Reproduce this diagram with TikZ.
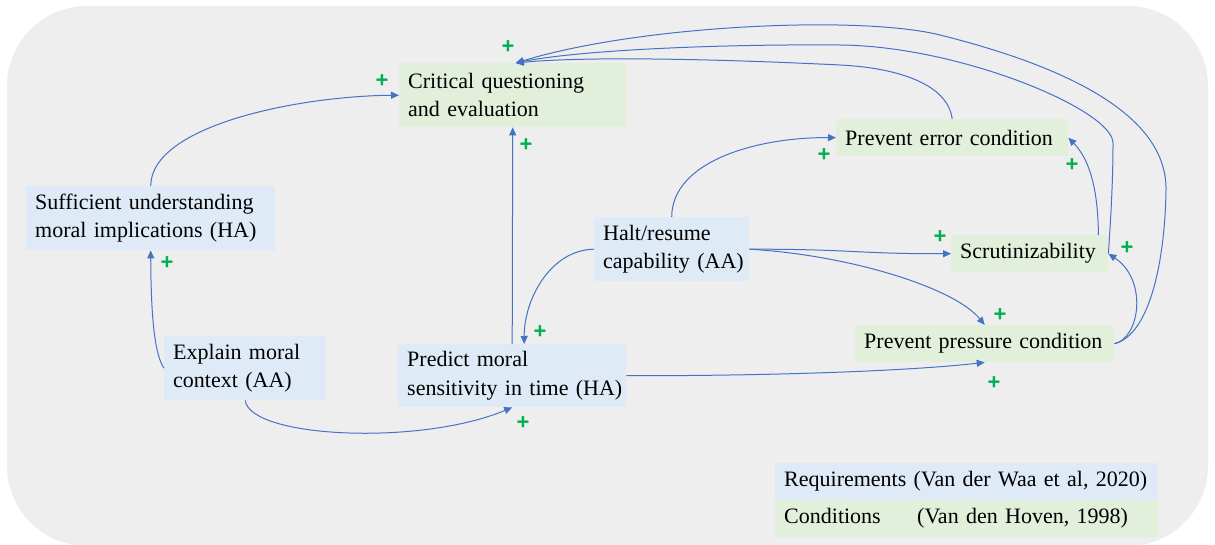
\documentclass[tikz,border=0pt]{standalone}
\usepackage{fontspec}
\setmainfont{Liberation Serif}
\setsansfont{Liberation Sans}
\usetikzlibrary{arrows.meta}

\definecolor{panel}{HTML}{EEEEEE}
\definecolor{reqblue}{HTML}{DEEAF6}
\definecolor{condgreen}{HTML}{E2EFDA}
\definecolor{linkblue}{HTML}{4472C4}
\definecolor{plusgreen}{HTML}{00B050}

\begin{document}
\begin{tikzpicture}[x=1pt,y=1pt,
  label text/.style={font=\fontsize{22}{28.5}\selectfont, text=black},
  anybox/.style={label text, anchor=north west, inner xsep=9pt, inner ysep=0pt,
    align=left, minimum height=#1},
  reqbox/.style={anybox=#1, fill=reqblue},
  condbox/.style={anybox=#1, fill=condgreen},
  link/.style={draw=linkblue, line width=1pt,
    -{Triangle[length=8pt,width=7pt]}},
  plusmark/.style={text=plusgreen, inner sep=0pt,
    font=\sffamily\bfseries\fontsize{22}{22}\selectfont},
]
\useasboundingbox (0,0) rectangle (1215,-545);

% rounded grey panel behind the diagram
\fill[panel, rounded corners=80pt] (7,-6) rectangle (1208,-546);

% requirements (blue) and conditions (green)
\node[condbox=64pt, text width=209pt] (crit) at (399,-63)
  {Critical questioning\\and evaluation};
\node[reqbox=64pt, text width=231pt] (suff) at (26,-186)
  {Sufficient understanding\\moral implications (HA)};
\node[reqbox=64pt, text width=144pt] (expl) at (164,-336)
  {Explain moral\\context (AA)};
\node[reqbox=63pt, text width=210pt] (pred) at (398,-344)
  {Predict moral\\sensitivity~in~time~(HA)};
\node[reqbox=64pt, text width=137pt] (halt) at (594,-217)
  {Halt/resume\\capability~(AA)};
\node[condbox=37pt, text width=214pt] (err) at (836,-119)
  {Prevent error condition};
\node[condbox=37pt, text width=139pt] (scr) at (951,-235)
  {Scrutinizability};
\node[condbox=37pt, text width=241pt] (pres) at (855,-325)
  {Prevent pressure condition};

% legend
\node[reqbox=37pt, text width=365pt] (legreq) at (775,-463)
  {Requirements (Van der Waa et al, 2020)};
\node[condbox=37pt, text width=365pt] (legcond) at (775,-500)
  {\makebox[133pt][l]{Conditions}(Van den Hoven, 1998)};

% influence links
\draw[link] (suff.north) .. controls (151,-125) and (300,-96) .. (crit.west);
\draw[link] (expl.west) .. controls (155,-355) and (151,-320) .. (suff.south);
\draw[link] (expl.south) .. controls (250,-438) and (420,-446) .. (pred.south);
\draw[link] (pred.north) -- (crit.south);
\draw[link] (halt.west) .. controls (550,-250) and (524,-300) .. ([xshift=12pt]pred.north);
\draw[link] (halt.north) .. controls (672,-160) and (760,-137) .. (err.west);
\draw[link] (halt.east) .. controls (850,-249) and (860,-254) .. (scr.west);
\draw[link] (halt.east) .. controls (850,-255) and (955,-288) .. (pres.north);
\draw[link] (pred.east) .. controls (750,-376) and (900,-372) .. (pres.south);
\draw[link] (err.north) .. controls (948,-85) and (900,-68) .. (840,-65)
  .. controls (760,-61) and (600,-55) .. ([xshift=3pt]crit.north);
\draw[link] ([xshift=-10pt]scr.north east) .. controls (1098,-190) and (1090,-160) .. (err.east);
\draw[link] (scr.east) .. controls (1112,-200) and (1113,-170) .. (1113,-143)
  .. controls (1113,-110) and (960,-46) .. (840,-45)
  .. controls (720,-44) and (580,-50) .. ([xshift=3pt]crit.north);
\draw[link] (pres.east) .. controls (1150,-335) and (1165,-260) .. (1166,-190)
  .. controls (1167,-120) and (1080,-70) .. (940,-35)
  .. controls (860,-15) and (640,-25) .. ([xshift=3pt]crit.north);
\draw[link] (pres.east) .. controls (1140,-338) and (1148,-280) .. (scr.east);

% polarity marks
\node[plusmark] (pl1) at (508,-47) {+};
\node[plusmark] (pl2) at (382,-81) {+};
\node[plusmark] (pl3) at (526,-145) {+};
\node[plusmark] (pl4) at (167,-263) {+};
\node[plusmark] (pl5) at (540,-332) {+};
\node[plusmark] (pl6) at (523,-423) {+};
\node[plusmark] (pl7) at (824,-155) {+};
\node[plusmark] (pl8) at (1072,-165) {+};
\node[plusmark] (pl9) at (940,-237) {+};
\node[plusmark] (pl10) at (1127,-248) {+};
\node[plusmark] (pl11) at (1000,-315) {+};
\node[plusmark] (pl12) at (994,-383) {+};
\end{tikzpicture}
\end{document}
